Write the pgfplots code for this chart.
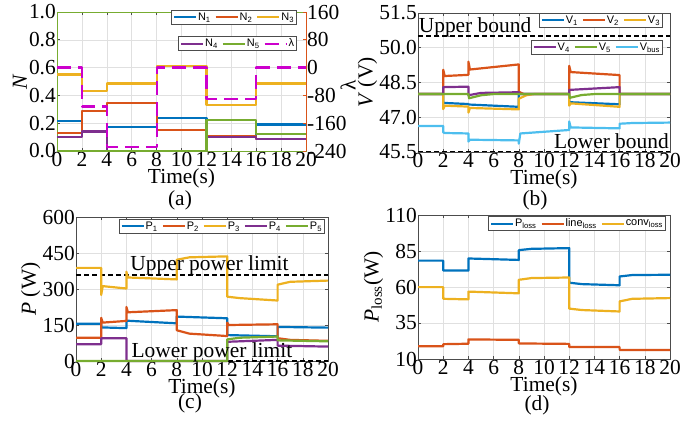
\documentclass[border=0pt]{standalone}
\usepackage{fontspec}
\setmainfont{Liberation Serif}
\newfontfamily\legfont{Liberation Sans}
\usepackage{pgfplots}
\pgfplotsset{compat=1.18}

\definecolor{mblue}{rgb}{0,0.447,0.741}
\definecolor{mred}{rgb}{0.85,0.325,0.098}
\definecolor{myel}{rgb}{0.929,0.694,0.125}
\definecolor{mpur}{rgb}{0.494,0.184,0.556}
\definecolor{mgrn}{rgb}{0.466,0.674,0.188}
\definecolor{mcyan}{rgb}{0.301,0.745,0.933}
\definecolor{mmag}{rgb}{0.8,0,0.8}
\definecolor{spine}{gray}{0.3}
\newcommand{\bigf}{\fontsize{21.5}{23}\selectfont}

\pgfplotsset{
  base/.style={
    scale only axis,
    xmin=0,xmax=20, xtick={0,2,4,6,8,10,12,14,16,18,20},
    grid=major, grid style={line width=0.5bp, black!12},
    axis line style={spine, line width=0.9bp},
    tick style={spine, line width=0.6bp},
    major tick length=3bp,
    tick label style={font=\bigf},
    label style={font=\bigf},
    /pgf/number format/assume math mode=true,
    xticklabel style={inner sep=1.2bp},
    yticklabel style={inner sep=1bp},
    xlabel={Time(s)},
    xlabel style={inner sep=0bp},
    ylabel style={inner sep=1bp},
    legend style={font=\legfont\fontsize{11}{12}\selectfont, draw=spine, line width=0.9bp,
      inner sep=1.5bp, legend columns=-1, fill=white,
      /tikz/every even column/.append style={column sep=3bp},
      nodes={inner sep=1bp}},
    legend image code/.code={\draw[##1, line width=2bp] (0bp,0bp) -- (22bp,0bp);},
    clip=false,
  },
  ln/.style={line width=2.2bp, line join=round},
  bnd/.style={line width=1.8bp, black, dash pattern=on 5bp off 3bp},
}

\begin{document}
\begin{tikzpicture}[x=1bp,y=1bp]
\useasboundingbox (0bp,0bp) rectangle (700bp,428bp);

%% ---------------- (a) ----------------
\begin{axis}[base, at={(57bp,277bp)}, anchor=south west, width=249bp, height=139bp,
  ymin=0, ymax=1, ytick={0,0.2,0.4,0.6,0.8,1},
  yticklabel style={/pgf/number format/.cd, fixed, fixed zerofill, precision=1},
  ylabel={\textit{N}}, y axis line style={mgrn}, ytick pos=left,
  legend style={at={(1,1)}, anchor=north east, xshift=-9bp, yshift=2bp}]
\addplot[ln, mblue] coordinates {(0,0.215)(2,0.215)(2,0.14)(4,0.14)(4,0.173)(8,0.173)(8,0.24)(12,0.24)(12,0.10)(16,0.10)(16,0.19)(20,0.19)};
\addlegendentry{N\textsubscript{1}}
\addplot[ln, mred] coordinates {(0,0.13)(2,0.13)(2,0.29)(4,0.29)(4,0.343)(8,0.343)(8,0.15)(12,0.15)(12,0.105)(16,0.105)(16,0.085)(20,0.085)};
\addlegendentry{N\textsubscript{2}}
\addplot[ln, myel] coordinates {(0,0.55)(2,0.55)(2,0.43)(4,0.43)(4,0.485)(8,0.485)(8,0.61)(12,0.61)(12,0.33)(16,0.33)(16,0.485)(20,0.485)};
\addlegendentry{N\textsubscript{3}}
\addplot[ln, mpur, forget plot] coordinates {(0,0.10)(2,0.10)(2,0.14)(4,0.14)(4,0)(12,0)(12,0.10)(16,0.10)(16,0.085)(20,0.085)};
\addplot[ln, mgrn, forget plot] coordinates {(0,0)(12,0)(12,0.225)(16,0.225)(16,0.12)(20,0.12)};
\end{axis}
\begin{axis}[base, at={(57bp,277bp)}, anchor=south west, width=249bp, height=139bp,
  axis y line*=right, axis x line=none, xlabel={}, grid=none,
  ymin=-240, ymax=160, ytick={-240,-160,-80,0,80,160},
  y axis line style={mred}, ytick style={mred},
  legend style={at={(1,1)}, anchor=north east, xshift=-9bp, yshift=-24bp}]
\addlegendimage{ln, mpur}
\addlegendentry{N\textsubscript{4}}
\addlegendimage{ln, mgrn}
\addlegendentry{N\textsubscript{5}}
\addplot[ln, mmag, dash pattern=on 14bp off 7bp] coordinates {(0,0)(2,0)(2,-112)(4,-112)(4,-228)(8,-228)(8,0)(12,0)(12,-90)(16,-90)(16,0)(20,0)};
\addlegendentry{λ}
\end{axis}
\node[font=\bigf, rotate=90] at (348bp,343bp) {λ};
\node[font=\bigf] at (180bp,228bp) {(a)};

%% ---------------- (b) ----------------
\begin{axis}[base, at={(418bp,276bp)}, anchor=south west, width=252bp, height=139bp,
  ymin=45.5, ymax=51.5, ytick={45.5,47,48.5,50,51.5},
  yticklabel style={/pgf/number format/.cd, fixed, fixed zerofill, precision=1},
  ylabel={\textit{V} (V)},
  legend style={at={(1,1)}, anchor=north east, xshift=-7bp, yshift=0bp}]
\addplot[bnd, forget plot] coordinates {(0,50.5)(20,50.5)};
\addplot[bnd, forget plot] coordinates {(0,45.52)(20,45.52)};
\addplot[ln, mblue] coordinates {(0,48)(2,48)(2,47.62)(4,47.57)(4,47.55)(8,47.45)(8,48)(12,48)(12,47.65)(16,47.56)(16,48)(20,48)};
\addlegendentry{V\textsubscript{1}}
\addplot[ln, mred] coordinates {(0,48)(2,48)(2,49.05)(2.12,48.78)(4,48.83)(4,49.4)(4.12,49.06)(8,49.28)(8,48.1)(8.4,48)(12,48)(12,49.22)(12.12,48.95)(16,48.82)(16,48)(20,48)};
\addlegendentry{V\textsubscript{2}}
\addplot[ln, myel] coordinates {(0,48)(2,48)(2,47.35)(2.12,47.5)(4,47.46)(4,47.2)(4.12,47.4)(8,47.34)(8,47.8)(8.6,47.95)(9.2,48)(12,48)(12,47.5)(12.12,47.6)(16,47.45)(16,48)(20,48)};
\addlegendentry{V\textsubscript{3}}
\addplot[ln, mpur, forget plot] coordinates {(0,48)(2,48)(2,48.3)(4,48.32)(4,47.95)(5,48.05)(8,48.08)(8,48)(12,48)(12,48.18)(16,48.3)(16,48)(20,48)};
\addplot[ln, mgrn, forget plot] coordinates {(0,48)(4,48)(4.05,47.82)(5,47.95)(6,48)(12,48)(12.05,47.84)(13,47.96)(14,48)(20,48)};
\addplot[ln, mcyan, forget plot] coordinates {(0,46.62)(2,46.62)(2,46.35)(2.12,46.32)(4,46.3)(4,45.95)(4.12,46.03)(8,46.0)(8,45.86)(8.12,46.3)(12,46.45)(12,46.82)(12.12,46.56)(16,46.52)(16,46.72)(17,46.75)(20,46.77)};
\node[anchor=base west, inner sep=0bp, font=\bigf] at (axis cs:0.05,50.5) [yshift=4bp] {Upper bound};
\node[anchor=base east, inner sep=0bp, font=\bigf] at (axis cs:20,45.5) [yshift=3bp, xshift=-1bp] {Lower bound};
\end{axis}
\begin{axis}[base, at={(418bp,276bp)}, anchor=south west, width=252bp, height=139bp,
  hide axis, ymin=45.5, ymax=51.5,
  legend style={at={(1,1)}, anchor=north east, xshift=-7bp, yshift=-27bp}]
\addlegendimage{ln, mpur}
\addlegendentry{V\textsubscript{4}}
\addlegendimage{ln, mgrn}
\addlegendentry{V\textsubscript{5}}
\addlegendimage{ln, mcyan}
\addlegendentry{V\textsubscript{bus}}
\end{axis}
\node[font=\bigf] at (535bp,228bp) {(b)};

%% ---------------- (c) ----------------
\begin{axis}[base, at={(76bp,67bp)}, anchor=south west, width=252bp, height=144bp,
  ymin=0, ymax=600, ytick={0,150,300,450,600},
  ylabel={\textit{P} (W)},
  legend style={at={(1,1)}, anchor=north east, xshift=-3bp, yshift=-2bp}]
\addplot[bnd, forget plot] coordinates {(0,360)(20,360)};
\addplot[bnd, forget plot] coordinates {(0,1)(20,1)};
\addplot[ln, mblue] coordinates {(0,155)(2,155)(2,140)(4,137)(4,168)(8,157)(8,185)(12,178)(12,108)(16,103)(16,142)(20,139)};
\addlegendentry{P\textsubscript{1}}
\addplot[ln, mred] coordinates {(0,97)(2,97)(2,180)(2.12,160)(4,167)(4,225)(4.12,203)(8,212)(8,128)(9,114)(12,104)(12,160)(12.12,150)(16,153)(16,95)(17,88)(20,84)};
\addlegendentry{P\textsubscript{2}}
\addplot[ln, myel] coordinates {(0,388)(2,388)(2,275)(2.12,312)(4,302)(4,372)(4.12,348)(8,340)(8,422)(9,432)(12,436)(12,268)(13,262)(16,252)(16,318)(17,330)(20,335)};
\addlegendentry{P\textsubscript{3}}
\addplot[ln, mpur] coordinates {(0,70)(2,70)(2,95)(4,95)(4,0)(12,0)(12,80)(16,88)(16,64)(20,60)};
\addlegendentry{P\textsubscript{4}}
\addplot[ln, mgrn] coordinates {(0,0)(12,0)(12,90)(13,97)(16,102)(16,86)(20,82)};
\addlegendentry{P\textsubscript{5}}
\node[anchor=base west, inner sep=0bp, font=\bigf] at (axis cs:4.3,360) [yshift=4bp] {Upper power limit};
\node[anchor=base west, inner sep=0bp, font=\bigf] at (axis cs:4.4,0) [yshift=3bp] {Lower power limit};
\end{axis}
\node[font=\bigf] at (190bp,25bp) {(c)};

%% ---------------- (d) ----------------
\begin{axis}[base, at={(418bp,69bp)}, anchor=south west, width=252bp, height=144bp,
  ymin=10, ymax=110, ytick={10,35,60,85,110},
  ylabel={\textit{P}\textsubscript{loss}(W)},
  legend style={at={(1,1)}, anchor=north east, xshift=-4bp, yshift=-1bp}]
\addplot[ln, mblue] coordinates {(0,78.3)(2,78.3)(2,71.5)(4,71.4)(4,79.8)(8,78.8)(8,85.6)(9,86.5)(12,87)(12,63)(13,62)(16,61.2)(16,67.3)(17,68.3)(20,68.5)};
\addlegendentry{P\textsubscript{loss}}
\addplot[ln, mred] coordinates {(0,18.8)(2,18.8)(2,20.3)(4,20.6)(4,23.6)(8,23.3)(8,20.8)(12,20.5)(12,18.3)(16,18.3)(16,16.3)(20,16.2)};
\addlegendentry{line\textsubscript{loss}}
\addplot[ln, myel] coordinates {(0,59.9)(2,59.9)(2,51.8)(4,51.4)(4,56.8)(8,55.6)(8,65)(9,66.2)(12,66.6)(12,45)(13,44)(16,43)(16,50)(17,51.8)(20,52.3)};
\addlegendentry{conv\textsubscript{loss}}
\end{axis}
\node[font=\bigf] at (537bp,23bp) {(d)};
\end{tikzpicture}
\end{document}
